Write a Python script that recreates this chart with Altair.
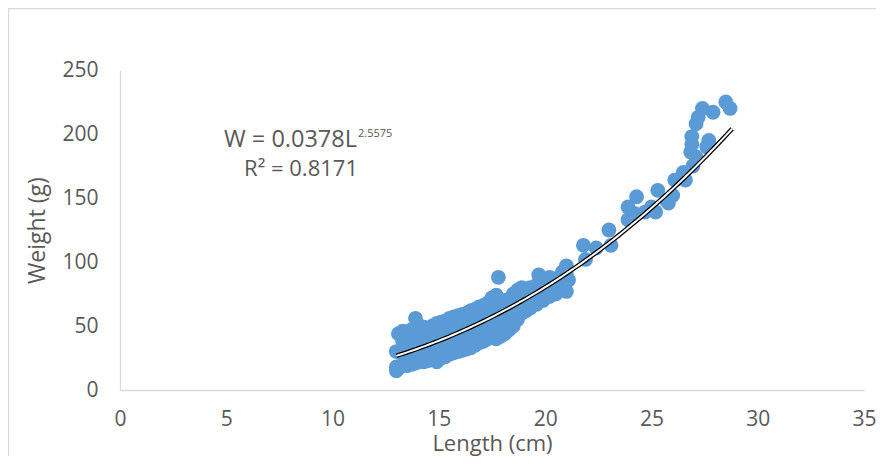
import altair as alt
import pandas as pd
import numpy as np

# ---- scatter data (length cm, weight g) ----
lengths = [
    13.0, 13.0, 13.0, 13.1, 13.1, 13.3, 13.3, 13.3,
    13.5, 13.5, 13.5, 13.5, 13.7, 13.7, 13.7, 13.7,
    13.9, 13.9, 13.9, 13.9, 13.9, 14.1, 14.1, 14.1, 14.1, 14.1,
    14.3, 14.3, 14.3, 14.3, 14.3, 14.5, 14.5, 14.5, 14.5, 14.5,
    14.7, 14.7, 14.7, 14.7, 14.7, 14.9, 14.9, 14.9, 14.9, 14.9,
    15.1, 15.1, 15.1, 15.1, 15.1, 15.3, 15.3, 15.3, 15.3, 15.3,
    15.5, 15.5, 15.5, 15.5, 15.5, 15.5, 15.7, 15.7, 15.7, 15.7, 15.7, 15.7,
    15.9, 15.9, 15.9, 15.9, 15.9, 16.1, 16.1, 16.1, 16.1, 16.1, 16.1,
    16.3, 16.3, 16.3, 16.3, 16.3, 16.5, 16.5, 16.5, 16.5, 16.5,
    16.7, 16.7, 16.7, 16.7, 16.7, 16.9, 16.9, 16.9, 16.9, 16.9, 16.9,
    17.1, 17.1, 17.1, 17.1, 17.1, 17.3, 17.3, 17.3, 17.3, 17.3,
    17.5, 17.5, 17.5, 17.5, 17.5, 17.7, 17.7, 17.7, 17.7, 17.7, 17.7,
    17.8, 17.9, 17.9, 17.9, 17.9, 17.9,
    18.1, 18.1, 18.1, 18.1, 18.3, 18.3, 18.3, 18.3,
    18.5, 18.5, 18.5, 18.5, 18.7, 18.7, 18.7, 18.7,
    18.9, 18.9, 18.9, 18.9, 19.1, 19.1, 19.1, 19.3, 19.3, 19.3,
    19.6, 19.6, 19.6, 19.7, 19.9, 19.9, 19.9, 20.2, 20.2, 20.2,
    20.5, 20.5, 20.5, 20.8, 20.8, 20.8, 21.0, 21.0, 21.0, 21.1,
    21.8, 21.9, 22.4, 23.0, 23.1, 23.9, 23.9, 24.2, 24.3, 24.7,
    25.0, 25.2, 25.3, 25.7, 25.8, 26.0, 26.1, 26.5, 26.6, 26.85,
    26.9, 26.9, 26.95, 27.1, 27.1, 27.2, 27.4, 27.6, 27.7, 27.9,
    28.5, 28.7,
]
weights = [
    15, 18, 30, 17, 44, 20, 38, 46,
    19, 24, 33, 42, 20, 28, 36, 47,
    21, 30, 40, 49, 56, 22, 27, 35, 43, 50,
    22, 31, 39, 46, 49, 23, 28, 36, 43, 48,
    24, 32, 40, 47, 50, 22, 28, 36, 44, 52,
    25, 31, 39, 46, 53, 26, 34, 42, 49, 54,
    28, 31, 37, 45, 52, 56, 29, 35, 41, 48, 55, 57,
    30, 38, 44, 51, 58, 31, 36, 42, 48, 55, 59,
    32, 39, 46, 52, 60, 33, 41, 48, 55, 62,
    35, 43, 50, 57, 63, 37, 42, 47, 54, 60, 65,
    38, 45, 52, 58, 66, 40, 48, 55, 61, 68,
    41, 47, 54, 60, 72, 40, 45, 52, 58, 64, 74,
    88, 42, 50, 57, 63, 69,
    44, 55, 62, 70, 47, 58, 64, 71,
    50, 62, 70, 75, 55, 65, 72, 78,
    60, 69, 76, 80, 62, 72, 78, 64, 74, 80,
    67, 76, 82, 90, 70, 80, 86, 73, 82, 88,
    75, 85, 87, 78, 86, 92, 77, 90, 97, 86,
    113, 102, 111, 125, 113, 143, 133, 138, 151, 139,
    143, 139, 156, 148, 146, 152, 164, 170, 164, 186,
    198, 192, 175, 182, 208, 213, 220, 190, 195, 217,
    225, 220,
]

# ---- trendline as printed on the chart: W = 0.0378 L^2.5575 ----
coef_a = 0.0378
coef_b = 2.5575
trend_start, trend_end = 13.0, 28.8

x_ticks = [0, 5, 10, 15, 20, 25, 30, 35]
y_ticks = [0, 50, 100, 150, 200, 250]

eq_text = "W = 0.0378L"
eq_exp = "2.5575"
r2_text = "R² = 0.8171"

pts = pd.DataFrame({"Length": lengths, "Weight": weights})
tl = np.linspace(trend_start, trend_end, 80)
trend = pd.DataFrame({"Length": tl, "Weight": coef_a * tl ** coef_b})

FONT = "Open Sans"
GREY = "#595959"
AXIS_GREY = "#D9D9D9"

xscale = alt.Scale(domain=[0, 35], nice=False, zero=True)
yscale = alt.Scale(domain=[0, 250], nice=False, zero=True)

xaxis = alt.Axis(values=x_ticks, title="Length (cm)", grid=False, ticks=False,
                 domainColor=AXIS_GREY, domainWidth=1.3, labelPadding=18,
                 labelFlush=False, labelOverlap=False,
                 labelFontSize=21, labelColor=GREY, labelFont=FONT,
                 titleFontSize=22, titleColor=GREY, titleFont=FONT,
                 titleFontWeight="normal", titlePadding=4)
yaxis = alt.Axis(values=y_ticks, title="Weight (g)", grid=False, ticks=False,
                 domainColor=AXIS_GREY, domainWidth=1.3, labelPadding=22,
                 labelFlush=False, labelOverlap=False,
                 labelFontSize=21, labelColor=GREY, labelFont=FONT,
                 titleFontSize=23, titleColor=GREY, titleFont=FONT,
                 titleFontWeight="normal", titlePadding=12)

scatter = alt.Chart(pts).mark_circle(size=220, color="#5B9BD5", opacity=1).encode(
    x=alt.X("Length:Q", scale=xscale, axis=xaxis),
    y=alt.Y("Weight:Q", scale=yscale, axis=yaxis),
)

trend_outer = alt.Chart(trend).mark_line(color="black", strokeWidth=4.5).encode(
    x=alt.X("Length:Q", scale=xscale), y=alt.Y("Weight:Q", scale=yscale))
trend_inner = alt.Chart(trend).mark_line(color="white", strokeWidth=2).encode(
    x=alt.X("Length:Q", scale=xscale), y=alt.Y("Weight:Q", scale=yscale))

one = pd.DataFrame({"k": [0]})
frame = alt.Chart(one).mark_rect(filled=False, stroke=AXIS_GREY, strokeWidth=1.3).encode(
    x=alt.value(-111.5), x2=alt.value(900), y=alt.value(-61.5), y2=alt.value(600))

eq_main = alt.Chart(one).mark_text(text=eq_text, font=FONT, fontSize=23.5, color=GREY,
                                   align="right", baseline="alphabetic").encode(
    x=alt.value(237), y=alt.value(77))
eq_sup = alt.Chart(one).mark_text(text=eq_exp, font=FONT, fontSize=11, color=GREY,
                                  align="left", baseline="alphabetic").encode(
    x=alt.value(238), y=alt.value(67))
r2 = alt.Chart(one).mark_text(text=r2_text, font=FONT, fontSize=22, color=GREY,
                              align="center", baseline="alphabetic").encode(
    x=alt.value(181), y=alt.value(106))

chart = alt.layer(frame, scatter, trend_outer, trend_inner, eq_main, eq_sup, r2).properties(
    width=744, height=320,
    padding={"left": 112, "top": 62, "right": 12, "bottom": 66},
    autosize=alt.AutoSizeParams(type="none"),
).configure_view(stroke=None)

chart.save("out.html", embed_options={"renderer": "svg", "actions": False})
